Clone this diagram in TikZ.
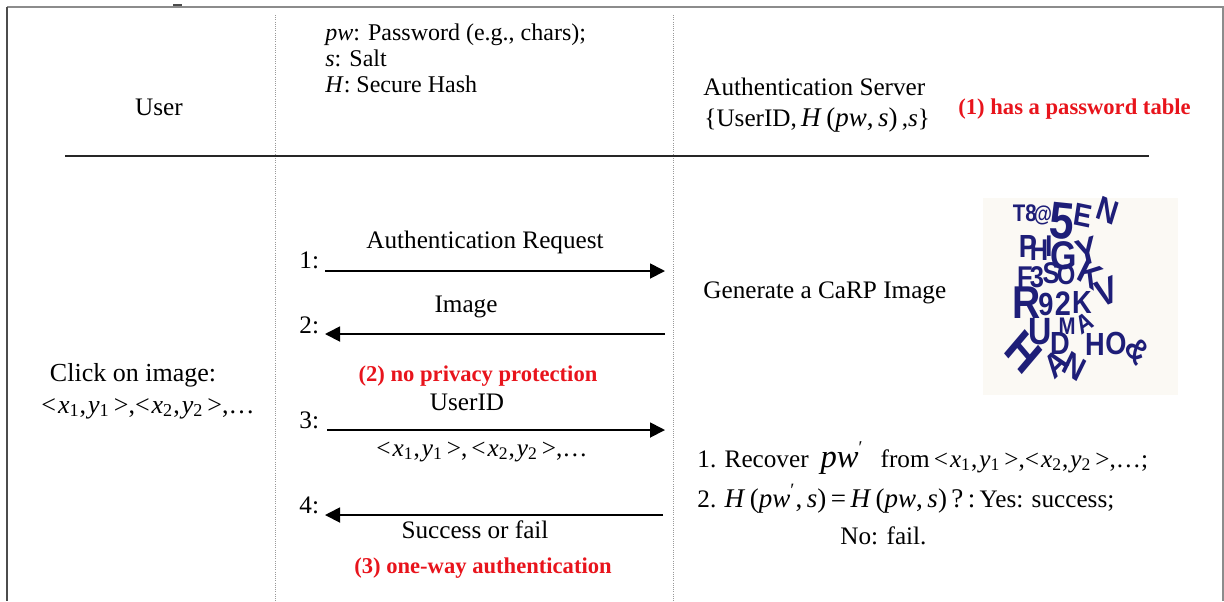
\documentclass[tikz,border=0pt]{standalone}
\usepackage{fontspec}
\setmainfont{Liberation Serif}
\newfontfamily\carpfont{Liberation Sans}
\usetikzlibrary{arrows.meta}
\definecolor{alertred}{HTML}{E8141C}
\definecolor{carpblue}{HTML}{1E1E78}
\definecolor{carpbg}{HTML}{FBF9F4}
\definecolor{framegray}{HTML}{8C8C8C}
\newcommand{\fs}[1]{\fontsize{#1}{#1}\selectfont}
% a click point  < x_i, y_i >
\newcommand{\cpair}[1]{<\kern1pt\textit{x}\textsubscript{#1},\kern1pt\textit{y}\textsubscript{#1}\kern2pt>}
\begin{document}
\begin{tikzpicture}[x=0.5pt,y=-0.5pt,
  txt/.style={inner sep=0pt, font=\fs{12.6}},
  legend/.style={inner sep=0pt, font=\fs{12}, anchor=base west},
  alert/.style={inner sep=0pt, text=alertred, font=\fs{11.3}\bfseries},
  msg/.style={line width=0.9pt, -{Triangle[length=7.5pt,width=7.5pt]}},
  lane/.style={draw=black!40, line width=0.5pt, dash pattern=on 0.5pt off 0.6pt},
  carp/.style={inner sep=0pt, text=carpblue, xscale=0.85}]

\useasboundingbox (0,0) rectangle (1224,601);

% outer frame
\draw[framegray, line width=1pt] (7,7) -- (1223,7) -- (1223,601);
\draw[black!70, line width=1pt] (7,7) -- (7,601);
\draw[black!70, line width=0.6pt] (173,5) -- (182,5);

% lanes and header rule
\draw[lane] (275,15) -- (275,601);
\draw[lane] (673,15) -- (673,601);
\draw[black!85, line width=1pt] (65,156) -- (1149,156);

% header
\node[txt, anchor=base] (user) at (159,115) {User};
\node[legend] (lg1) at (325,40) {\textit{pw}: Password (e.g., chars);};
\node[legend] (lg2) at (325,66) {\textit{s}: Salt};
\node[legend] (lg3) at (325,92) {\textit{H}: Secure Hash};
\node[txt, anchor=base west] (srv) at (703,95) {Authentication Server};
\node[txt, anchor=base west] (tbl) at (704,126) {\{UserID,\,{\fs{13.5}\textit{H}\,(\textit{pw},\,\textit{s})}\,,\textit{s}\}};
\node[alert, anchor=base west] (n1) at (958,114) {(1) has a password table};

% message end points
\coordinate (u1) at (325,271); \coordinate (s1) at (665,271);
\coordinate (u2) at (325,334); \coordinate (s2) at (665,334);
\coordinate (u3) at (327,430); \coordinate (s3) at (665,430);
\coordinate (u4) at (325,515); \coordinate (s4) at (663,515);

\draw[msg] (u1) -- (s1);
\draw[msg] (s2) -- (u2);
\draw[msg] (u3) -- (s3);
\draw[msg] (s4) -- (u4);

\node[txt, anchor=base west] (k1) at (299,268) {1:};
\node[txt, anchor=base west] (k2) at (299,333) {2:};
\node[txt, anchor=base west] (k3) at (299,428) {3:};
\node[txt, anchor=base west] (k4) at (299,513) {4:};

\node[txt, anchor=base] (m1) at (485,248) {Authentication Request};
\node[txt, anchor=base] (m2) at (466,312) {Image};
\node[alert, anchor=base] (n2) at (478,381) {(2) no privacy protection};
\node[txt, anchor=base] (m3) at (467,410) {UserID};
\node[txt, anchor=base] (m3b) at (482,456) {\cpair1,\kern2pt\cpair2,…};
\node[txt, anchor=base] (m4) at (475,538) {Success or fail};
\node[alert, anchor=base] (n3) at (483,573) {(3) one-way authentication};

% user side
\node[txt, anchor=base, font=\fs{13}] (click) at (133,381) {Click on image:};
\node[txt, anchor=base, font=\fs{13}] (clickpts) at (148,413) {\cpair1,\cpair2,…};

% server side
\node[txt, anchor=base west] (gen) at (703,298) {Generate a CaRP Image};
\node[txt, anchor=base west] (step1) at (697,467)
  {1. Recover\hspace{6pt}{\fs{16.3}\textit{pw}}\raisebox{7pt}{\fs{9}′}\hspace{9pt}from\,\cpair1,\cpair2,…;};
\node[txt, anchor=base west] (step2) at (697,507)
  {2. {\fs{13.5}\textit{H}\,(\textit{pw}\textsuperscript{′},\,\textit{s})\,=\,\textit{H}\,(\textit{pw},\,\textit{s})\,?\,:}\,Yes: success;};
\node[txt, anchor=base west] (step2b) at (840,544) {No: fail.};

% the CaRP challenge picture: overlapping, tilted characters
\fill[carpbg] (983,198) rectangle (1178,395);
\foreach \x/\y/\a/\s/\l [count=\i] in {
  1019/213/0/12/T, 1031/213/0/12/8, 1043/215/0/11/@, 1062/221/-5/26/5,
  1083/216/-10/16/E, 1108/211/-20/17/N,
  1028/246/0/16/P, 1039/250/0/15/H, 1049/246/0/15/I, 1064/256/0/20/G,
  1087/252/15/19/Y,
  1025/277/0/15/F, 1037/277/0/15/3, 1051/273/0/15/S, 1066/275/0/14/O,
  1090/274/-30/18/K,
  1027/303/0/23/R, 1046/304/0/16/9, 1063/304/0/17/2, 1082/302/0/16/K,
  1107/292/20/19/V,
  1040/332/0/19/U, 1067/326/0/12/M, 1085/323/30/13/A, 1060/343/0/16/D,
  1024/352/-45/25/H, 1056/364/40/17/A, 1074/366/-30/17/N,
  1095/344/0/16/H, 1116/343/0/16/O, 1138/350/-50/17/\&}
  \node[carp, rotate=\a, font=\carpfont\bfseries\fs{\s}] (carp\i) at (\x,\y) {\l};
\end{tikzpicture}
\end{document}
